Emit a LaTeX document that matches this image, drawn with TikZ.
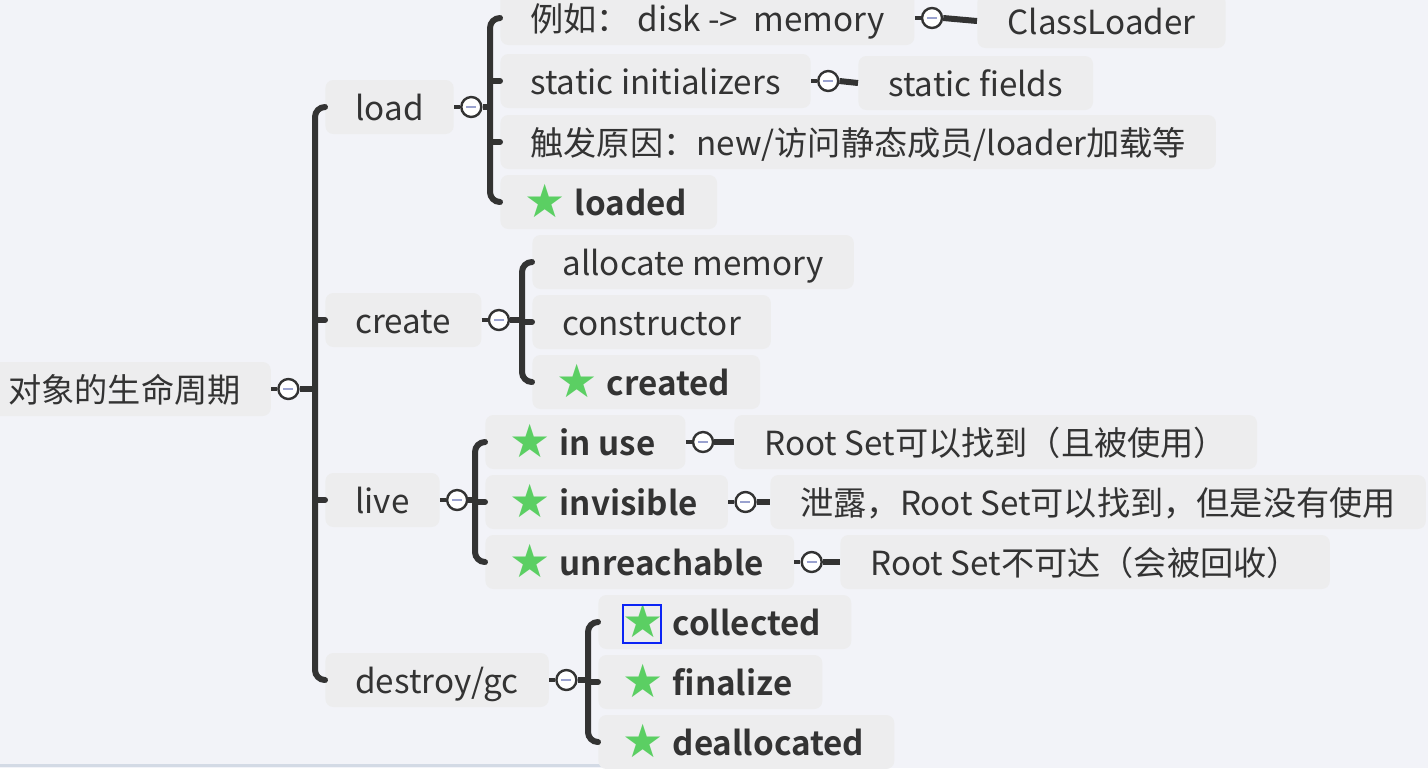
\documentclass[tikz,border=0pt]{standalone}
\usepackage{fontspec}
\setmainfont{Noto Sans CJK SC}
\newfontfamily\starfont{DejaVu Sans}
\IfFontExistsTF{Noto Sans CJK SC Bold}{\newfontfamily\heavyfont{Noto Sans CJK SC Bold}}{\newfontfamily\heavyfont{Liberation Sans Bold}}
\usetikzlibrary{positioning,calc}
\definecolor{bg}{HTML}{F2F3F8}
\definecolor{boxgray}{HTML}{EDEDEE}
\definecolor{ink}{HTML}{333333}
\definecolor{stargreen}{HTML}{5BCF63}
\definecolor{minuscol}{HTML}{9AA2CF}
\definecolor{selblue}{HTML}{0B24F5}
\definecolor{scroll}{HTML}{D3DAE5}
\newcommand\done[1]{\hspace*{-3pt}{\color{stargreen}\starfont\fontsize{23}{23}\selectfont\raisebox{-1pt}{★}}\hspace{4.5pt}{\heavyfont #1}}
\tikzset{
	topic/.style={fill=boxgray, rounded corners=4pt, anchor=west, text=ink, inner xsep=15pt, inner ysep=0pt, minimum height=27pt, text height=16pt, text depth=3pt, font=\fontsize{16.6}{19}\selectfont},
	fold/.style={circle, draw=ink, fill=white, line width=1.2pt, minimum size=10pt, inner sep=0pt},
	bar/.style={draw=ink, line width=3pt, line cap=round, rounded corners=5pt},
	stub/.style={draw=ink, line width=1.6pt},
	minus/.style={draw=minuscol, line width=1pt}
}
\begin{document}
\begin{tikzpicture}[x=0.5pt,y=-0.5pt]
	\clip (0,0) rectangle (1428,768);
	\fill[bg] (0,0) rectangle (1428,768);
	\draw[scroll, line width=1.5pt] (0,765) -- (765,765);
	% topics
	\node[topic] (root) at (-22,389) {对象的生命周期};
	\node[topic] (load) at (325,107) {load};
	\node[topic] (create) at (325,320) {create};
	\node[topic] (live) at (325,500) {live};
	\node[topic] (gc) at (325,680) {destroy/gc};
	% load
	\node[topic] (ex) at (500,18) {例如：\ disk ->\ \ memory};
	\node[topic] (cl) at (977,21) {ClassLoader};
	\node[topic] (si) at (500,81) {static initializers};
	\node[topic] (sf) at (858,83) {static fields};
	\node[topic] (why) at (500,142) {触发原因：new/访问静态成员/loader加载等};
	\node[topic] (loaded) at (500,202) {\done{loaded}};
	% create
	\node[topic] (alloc) at (532,262) {allocate memory};
	\node[topic] (ctor) at (532,322) {constructor};
	\node[topic] (created) at (532,382) {\done{created}};
	% live
	\node[topic] (inuse) at (485,442) {\done{in use}};
	\node[topic] (rs1) at (734,442) {Root Set可以找到（且被使用）};
	\node[topic] (invis) at (485,502) {\done{invisible}};
	\node[topic] (leak) at (770,502) {泄露，Root Set可以找到，但是没有使用};
	\node[topic] (unreach) at (485,562) {\done{unreachable}};
	\node[topic] (rs2) at (840,562) {Root Set不可达（会被回收）};
	% destroy/gc
	\node[topic] (collected) at (598,622) {\done{collected}};
	\node[topic] (finalize) at (598,682) {\done{finalize}};
	\node[topic] (dealloc) at (598,742) {\done{deallocated}};
	\draw[selblue, line width=0.8pt] (623,605) rectangle (661,643);
	% fold circles
	\foreach \n in {root,load,create,live,gc,ex,si,inuse,invis,unreach}{
		\node[fold, right=3pt of \n] (\n-c) {};
		\draw[stub] (\n.east) -- (\n-c.west);
		\draw[minus] ([xshift=-2.5pt]\n-c.center) -- ([xshift=2.5pt]\n-c.center);
	}
	% braces
	\foreach \p/\a/\b in {root/load/gc, load/ex/loaded, create/alloc/created, live/inuse/unreach, gc/collected/dealloc}{
		\path (\a.west) ++(-10,0) coordinate (\p-b);
		\draw[bar] (\a.west) -| ($(\b.west)+(-10,0)$) -- (\b.west);
		\draw[bar, line cap=butt] (\p-c.east) -- (\p-c.east -| \p-b);
	}
	\foreach \m in {create,live,si,why,ctor,invis,finalize}
		\draw[bar] (\m.west) -- ++(-10,0);
	% leaves
	\foreach \p/\c in {ex/cl, si/sf, inuse/rs1, invis/leak, unreach/rs2}
		\draw[bar, line cap=butt] (\p-c.east) -- (\c.west);
\end{tikzpicture}
\end{document}
